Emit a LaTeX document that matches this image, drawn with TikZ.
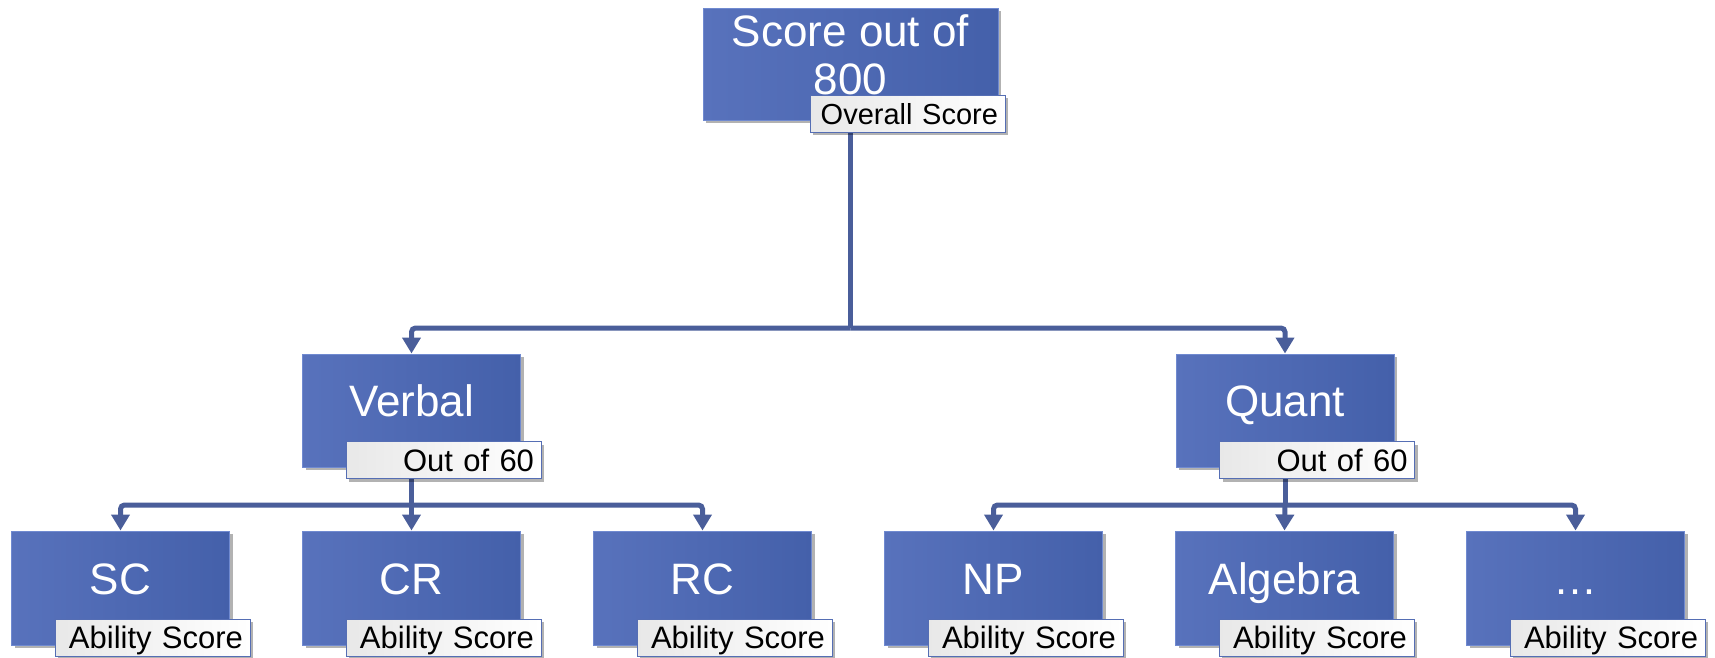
\documentclass[tikz,border=0pt]{standalone}
\usepackage{fontspec}
\setmainfont{Liberation Sans}
\usetikzlibrary{arrows.meta,shadows}
\definecolor{boxL}{RGB}{88,114,188}
\definecolor{boxR}{RGB}{68,96,170}
\definecolor{boxB}{RGB}{112,138,208}
\definecolor{connC}{RGB}{74,94,154}
\definecolor{labB}{RGB}{85,110,180}
\pgfdeclarelayer{bg}
\pgfsetlayers{bg,main}
\begin{document}
\begin{tikzpicture}[x=1pt,y=-1pt,
  box/.style={draw=boxB, line width=1pt, left color=boxL, right color=boxR,
    text=white, font=\fontsize{44}{47}\selectfont,
    minimum width=218pt, minimum height=114pt, inner sep=0pt,
    text height=20pt, text depth=7.5pt,
    drop shadow={shadow xshift=3pt,shadow yshift=-3pt,opacity=0.3,fill=black}},
  boxtext/.style={text=white, font=\fontsize{44}{48}\selectfont, align=center, inner sep=0pt},
  lab/.style={draw=labB, line width=1pt, left color=black!9, right color=white,
    text=black, font=\fontsize{31}{33}\selectfont,
    minimum height=37pt, text width=181pt, align=right, inner xsep=7pt, inner ysep=0pt,
    text height=22pt, text depth=0pt,
    drop shadow={shadow xshift=3pt,shadow yshift=-3pt,opacity=0.3,fill=black}},
  connector/.style={draw=connC, line width=5pt, rounded corners=4pt},
  tip/.style={-{Triangle[length=16pt,width=18pt]}}
]
\useasboundingbox (0,0) rectangle (1715,657);

% top
\node[box, minimum width=295pt, minimum height=112pt] (top) at (850.5,64) {};
\node[boxtext, anchor=north] (toptext) at (850.5,14) {Score out of\\800};
\node[lab, font=\fontsize{29}{31}\selectfont] (toplab) at (907.5,113.5) {Overall Score};

% middle
\node[box, minimum height=113pt] (verbal) at (411.5,410.5) {Verbal};
\node[lab] (verballab) at (443.5,460) {Out of 60};
\node[box, minimum height=113pt] (quant) at (1285,410.5) {Quant};
\node[lab] (quantlab) at (1317,460) {Out of 60};

% bottom
\node[box] (sc) at (120.5,588) {SC};
\node[lab] (sclab) at (152.5,637.5) {Ability Score};
\node[box] (cr) at (411.5,588) {CR};
\node[lab] (crlab) at (443.5,637.5) {Ability Score};
\node[box] (rc) at (702.5,588) {RC};
\node[lab] (rclab) at (734.5,637.5) {Ability Score};
\node[box] (np) at (993.5,588) {NP};
\node[lab] (nplab) at (1025.5,637.5) {Ability Score};
\node[box] (alg) at (1284.5,588) {Algebra};
\node[lab] (alglab) at (1316.5,637.5) {Ability Score};
\node[box] (etc) at (1575.5,588) {…};
\node[lab] (etclab) at (1607.5,637.5) {Ability Score};

\begin{pgfonlayer}{bg}
\coordinate (j0) at (850.5,328);
\draw[connector] (top.south) -- (j0);
\draw[connector,tip] (j0) -| (verbal.north);
\draw[connector,tip] (j0) -| (quant.north);

\coordinate (j1) at (411.5,505);
\draw[connector] (verbal.south) -- (j1);
\draw[connector,tip] (j1) -| (sc.north);
\draw[connector,tip] (j1) -- (cr.north);
\draw[connector,tip] (j1) -| (rc.north);

\coordinate (j2) at (1285,505);
\draw[connector] (quant.south) -- (j2);
\draw[connector,tip] (j2) -| (np.north);
\draw[connector,tip] (j2) -- (alg.north);
\draw[connector,tip] (j2) -| (etc.north);
\end{pgfonlayer}
\end{tikzpicture}
\end{document}
